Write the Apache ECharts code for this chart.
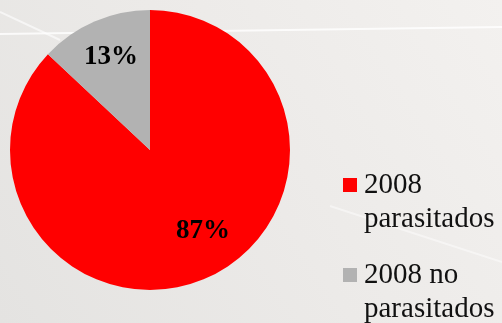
<!DOCTYPE html>
<html><head><meta charset="utf-8">
<script src="https://cdn.jsdelivr.net/npm/echarts@6/dist/echarts.min.js"></script>
<style>html,body{margin:0;padding:0;}#c{width:502px;height:323px;}</style>
</head><body><div id="c"></div>
<script>
const categories = ['2008\nparasitados', '2008 no\nparasitados'];
const values = [87, 13];
const labels = ['87%', '13%'];
const colors = ['#ff0000', '#b2b2b2'];
const labelOffsets = [[24, 14], [-10, -26]];
const legendTops = [134, 224];

const chart = echarts.init(document.getElementById('c'), null, {renderer: 'canvas'});
chart.setOption({
  backgroundColor: {
    type: 'linear', x: 1, y: 0, x2: 0, y2: 1,
    colorStops: [{offset: 0, color: '#f3f1ef'}, {offset: 0.5, color: '#eceae8'}, {offset: 1, color: '#e4e3e1'}]
  },
  graphic: [
    {type: 'line', shape: {x1: 0, y1: 34, x2: 502, y2: 27}, style: {stroke: 'rgba(255,255,255,0.8)', lineWidth: 2}, z: 0},
    {type: 'line', shape: {x1: 0, y1: 12, x2: 60, y2: 40}, style: {stroke: 'rgba(255,255,255,0.6)', lineWidth: 2}, z: 0},
    {type: 'line', shape: {x1: 330, y1: 206, x2: 502, y2: 262}, style: {stroke: 'rgba(255,255,255,0.45)', lineWidth: 2}, z: 0}
  ],
  legend: categories.map((n, i) => ({
    orient: 'vertical',
    left: 343, top: legendTops[i],
    padding: 0,
    itemWidth: 14, itemHeight: 14,
    icon: 'rect',
    formatter: name => ' \n' + name,
    textStyle: {fontFamily: 'Liberation Serif', fontSize: 29, color: '#111', lineHeight: 34, padding: [0, 0, 0, 2]},
    data: [n]
  })),
  series: [{
    type: 'pie',
    center: [150, 150],
    radius: 140,
    startAngle: 90,
    clockwise: true,
    silent: true,
    animation: false,
    label: {
      position: 'inside',
      fontFamily: 'Liberation Serif', fontWeight: 'bold', fontSize: 27, color: '#000'
    },
    labelLine: {show: false},
    data: categories.map((n, i) => ({
      name: n, value: values[i],
      itemStyle: {color: colors[i]},
      label: {formatter: labels[i], offset: labelOffsets[i]}
    }))
  }]
});
</script></body></html>
